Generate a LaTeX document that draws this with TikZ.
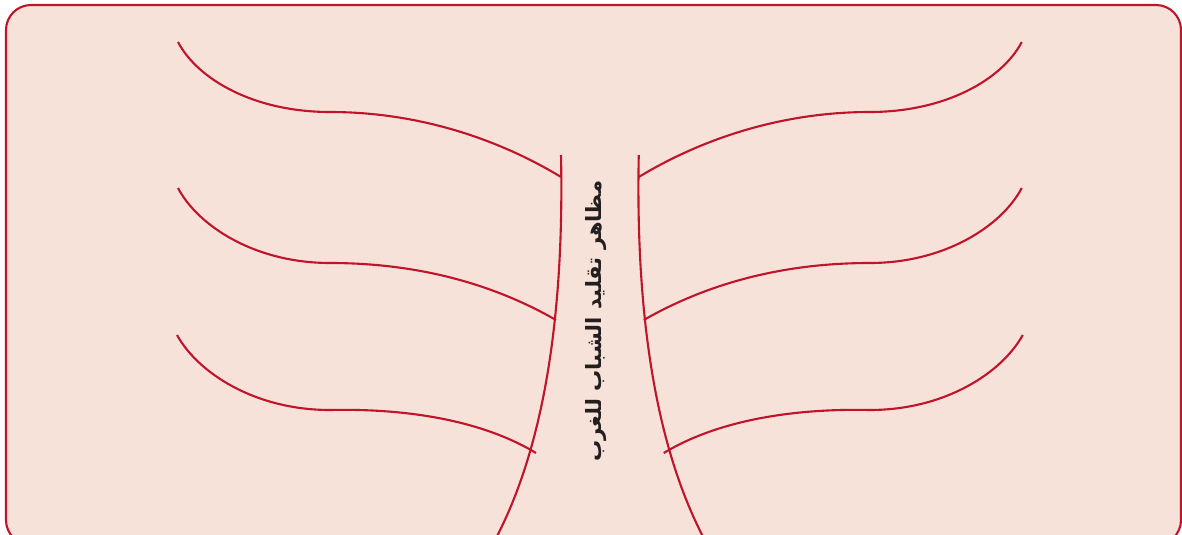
\documentclass[tikz,border=0pt]{standalone}
\usepackage{fontspec}
\newfontfamily\arabicfont[Script=Arabic]{DejaVu Sans}
\TeXXeTstate=1
\usetikzlibrary{positioning}
\definecolor{TreeRed}{HTML}{C0142B}
\definecolor{SoftPink}{HTML}{F6E2D8}
\definecolor{TextDark}{HTML}{231F20}

\begin{document}
\begin{tikzpicture}[
  x=0.02cm,y=-0.02cm,
  frame/.style={draw=TreeRed,fill=SoftPink,line width=1.2pt,rounded corners=0.5cm},
  limb/.style={draw=TreeRed,line width=1.2pt},
  title/.style={rotate=90,font=\arabicfont\bfseries\fontsize{12}{14}\selectfont,text=TextDark}
]
\useasboundingbox (0,0) rectangle (1182,534);
\clip (0,0) rectangle (1182,534);
\draw[frame] (6,5) rectangle (1181,545);
% trunk and branches, left half mirrored to the right
\foreach \flip in {1,-1}{
  \begin{scope}[xshift={(1-\flip)*12cm},xscale=\flip]
    \coordinate (top) at (561,155);
    \coordinate (foot) at (495,540);
    \draw[limb] (top) .. controls (564,300) and (548,440) .. (foot);
    \coordinate (b1) at (561,177);
    \coordinate (b2) at (556,320);
    \coordinate (b3) at (536,453);
    \draw[limb] (178,42) .. controls (198,80) and (255,112) .. (330,112)
      .. controls (420,112) and (500,140) .. (b1);
    \draw[limb] (178,188) .. controls (198,226) and (255,263) .. (330,263)
      .. controls (420,263) and (495,285) .. (b2);
    \draw[limb] (177,335) .. controls (198,373) and (255,410) .. (330,410)
      .. controls (420,408) and (490,425) .. (b3);
  \end{scope}
}
\node[title] (label) at (596,321) {\beginR مظاهر تقليد الشباب للغرب\endR};
\end{tikzpicture}
\end{document}
